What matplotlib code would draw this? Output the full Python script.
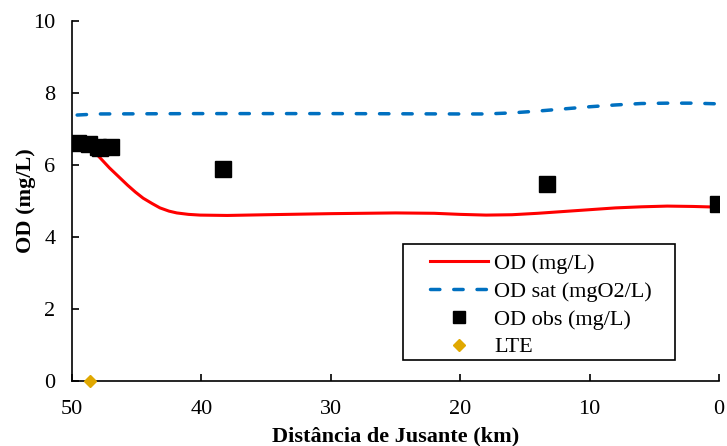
import matplotlib
matplotlib.use("Agg")
import matplotlib.pyplot as plt
from matplotlib.patches import Rectangle
from matplotlib.transforms import IdentityTransform

plt.rcParams['font.family'] = ['Liberation Serif', 'DejaVu Serif']

# OD simulado (mg/L)
km_od = [48.8, 48.3, 47.8, 47.1, 46.4, 45.7, 45.1, 44.5, 43.8, 43.2, 42.5, 41.9,
         41.0, 40.1, 38.0, 35.0, 30.0, 25.0, 22.0, 20.0, 18.0, 16.0, 14.0, 12.0,
         10.0, 8.0, 6.0, 4.0, 2.0, 0.0]
od = [6.56, 6.38, 6.19, 5.92, 5.68, 5.44, 5.25, 5.08, 4.93, 4.81, 4.72, 4.67,
      4.63, 4.61, 4.60, 4.62, 4.65, 4.67, 4.66, 4.63, 4.61, 4.62, 4.66, 4.71,
      4.76, 4.81, 4.84, 4.86, 4.85, 4.83]

# OD saturacao
km_sat = [49.6, 48.0, 40.0, 30.0, 20.0, 18.0, 16.0, 14.0, 12.0, 10.0, 8.0,
          6.0, 4.0, 2.0, 0.0]
od_sat = [7.39, 7.42, 7.43, 7.43, 7.42, 7.42, 7.45, 7.50, 7.56, 7.62, 7.67,
          7.71, 7.72, 7.72, 7.70]

# OD observado
km_obs = [49.5, 48.7, 48.0, 47.8, 47.0, 38.3, 13.3, 0.1]
od_obs = [6.62, 6.58, 6.50, 6.47, 6.50, 5.90, 5.48, 4.93]

# LTE
km_lte = [48.6]
lte = [0.0]

fig = plt.figure(figsize=(7.27, 4.46), dpi=100)
ax = fig.add_axes([0.099, 0.1457, 0.89, 0.807])

ax.plot(km_od, od, color='#ff0000', lw=2.2, label='OD (mg/L)')
ax.plot(km_sat, od_sat, color='#0070c0', lw=2.5, ls=(0, (2.7, 4.0)),
        dash_capstyle='round', label='OD sat (mgO2/L)')
ax.plot(km_obs, od_obs, ls='none', marker='s', ms=11, color='black', label='OD obs (mg/L)')
ax.plot(km_lte, lte, ls='none', marker='D', ms=6, color='#e0a800', label='LTE',
        clip_on=False, zorder=5)

ax.set_xlim(50, 0)
ax.set_ylim(0, 10)
ax.set_xticks([50, 40, 30, 20, 10, 0])
ax.set_yticks([0, 2, 4, 6, 8, 10])
ax.spines['top'].set_visible(False)
ax.spines['right'].set_visible(False)
ax.spines['left'].set_linewidth(1.2)
ax.spines['bottom'].set_linewidth(1.2)
ax.tick_params(direction='in', length=5, width=1.2, labelsize=16)
ax.tick_params(axis='x', pad=14)
ax.tick_params(axis='y', pad=12)

ax.set_xlabel('Distância de Jusante (km)', fontsize=16, fontweight='bold', labelpad=5)
ax.set_ylabel('OD (mg/L)', fontsize=16, fontweight='bold', labelpad=-2)

leg = ax.legend(loc='lower right', bbox_to_anchor=(0.904, 0.052), fontsize=16,
                frameon=False, handlelength=2.6, handletextpad=0.3,
                borderpad=0.22, labelspacing=0.33, borderaxespad=0)
leg.legend_handles[2].set_markersize(8.5)

# caixa da legenda com mais folga lateral
fig.canvas.draw()
bb = leg.get_window_extent()
fig.patches.append(Rectangle((bb.x0 - 22, bb.y0 + 2), bb.width + 40, bb.height + 2,
                             transform=IdentityTransform(), fill=False,
                             edgecolor='black', lw=1.2, figure=fig))

fig.savefig('out.png', dpi=100)
